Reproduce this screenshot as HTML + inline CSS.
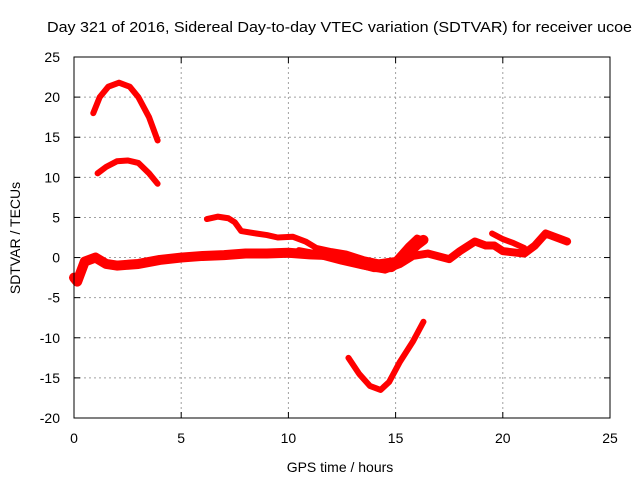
<!DOCTYPE html>
<html><head><meta charset="utf-8"><style>
body{margin:0;background:#fff}
svg{display:block;font-family:"Liberation Sans",sans-serif}
</style></head><body>
<svg id="chart" width="640" height="480">
<text x="47" y="32" font-size="15" textLength="585" lengthAdjust="spacingAndGlyphs">Day 321 of 2016, Sidereal Day-to-day VTEC variation (SDTVAR) for receiver ucoe</text>
<text x="340" y="472" font-size="14" text-anchor="middle">GPS time / hours</text>
<text transform="translate(20,238) rotate(-90)" font-size="14" text-anchor="middle">SDTVAR / TECUs</text>
<g id="grid"></g><g id="series"></g><g id="axes"></g>
</svg>
<script>
const xTicks=[0,5,10,15,20,25];
const yTicks=[-20,-15,-10,-5,0,5,10,15,20,25];
const arcHigh=[[0.9,18],[1.2,20],[1.6,21.3],[2.1,21.8],[2.6,21.3],[3.0,20],[3.5,17.5],[3.9,14.6]];
const arcLow=[[1.1,10.5],[1.5,11.3],[2.0,12],[2.5,12.1],[3.0,11.8],[3.5,10.5],[3.9,9.2]];
const dip=[[12.8,-12.5],[13.3,-14.5],[13.8,-16],[14.3,-16.5],[14.7,-15.5],[15.2,-13],[15.8,-10.5],[16.3,-8]];
const upperBand=[[6.2,4.8],[6.7,5.1],[7.2,4.9],[7.5,4.4],[7.8,3.3],[8.5,3],[9.0,2.8],[9.5,2.5],[10.2,2.6],[10.8,2],[11.3,1.2],[12,0.8],[12.7,0.5],[13.5,-0.2],[14.2,-0.6],[15,-0.3],[15.6,1.5],[16.0,2.5],[16.3,2.2]];
const mainBand=[[0,-2.5],[0.15,-3],[0.5,-0.5],[1.0,0],[1.5,-0.8],[2.0,-1.0],[3.0,-0.8],[4,-0.3],[5,0],[6,0.2],[7,0.3],[8,0.5],[9,0.5],[10,0.6],[11,0.4],[12,0.3],[13,-0.5],[14,-1.2],[14.8,-1.2],[15.5,0.2],[16,1.6],[16.3,2.2]];
const lowerBranch=[[10.5,0.8],[11.5,0.3],[12.5,-0.4],[13.5,-1],[14.5,-1.5],[15.2,-0.8],[15.8,0.2],[16.5,0.5],[17.5,-0.2],[18,0.8],[18.7,2],[19.2,1.5],[19.6,1.5],[20,0.8],[21,0.5],[21.5,1.5],[22,3],[22.5,2.5],[23,2]];
const lateBranch=[[19.5,3],[20,2.3],[20.5,1.8],[21,1.2]];
const X=v=>74+(v-0)*536/25;
const Y=v=>418-(v+20)*361/45;
const ns="http://www.w3.org/2000/svg";
const grid=document.getElementById('grid'),axes=document.getElementById('axes'),ser=document.getElementById('series');
function mk(tag,at,parent){const e=document.createElementNS(ns,tag);for(const k in at)e.setAttribute(k,at[k]);parent.appendChild(e);return e;}
xTicks.forEach(t=>{
 if(t>0&&t<25){const l=mk('line',{x1:X(t),x2:X(t),y1:57,y2:418,stroke:'#a0a0a0','stroke-dasharray':'2,3'},grid);}
 const tx=mk('text',{x:X(t),y:443,'font-size':14,'text-anchor':'middle'},axes);tx.textContent=t;
 
 
 mk('line',{x1:X(t),x2:X(t),y1:418,y2:412,stroke:'#000'},axes);mk('line',{x1:X(t),x2:X(t),y1:57,y2:63,stroke:'#000'},axes);
});
yTicks.forEach(t=>{
 if(t>-20&&t<25){const l=mk('line',{x1:74,x2:610,y1:Y(t),y2:Y(t),stroke:'#a0a0a0','stroke-dasharray':'2,3'},grid);}
 const tx=mk('text',{x:60,y:Y(t)+5,'font-size':14,'text-anchor':'end'},axes);tx.textContent=t;
 
 
 mk('line',{x1:74,x2:80,y1:Y(t),y2:Y(t),stroke:'#000'},axes);mk('line',{x1:604,x2:610,y1:Y(t),y2:Y(t),stroke:'#000'},axes);
});
const fr=mk('rect',{x:74,y:57,width:536,height:361,fill:'none',stroke:'#000'},axes);


function draw(data,w,name){
 const p=mk('polyline',{points:data.map(d=>X(d[0])+','+Y(d[1])).join(' '),fill:'none',stroke:'#ff0000','stroke-width':w,'stroke-linejoin':'round','stroke-linecap':'round'},ser);
 
 
}
draw(arcHigh,6,'series-arc-high');
draw(arcLow,6,'series-arc-low');
draw(dip,6,'series-dip');
draw(upperBand,6,'series-upper-band');
draw(mainBand,10,'series-main-band');
draw(lowerBranch,8,'series-lower-branch');
draw(lateBranch,6,'series-late-branch');
</script>
</body></html>
